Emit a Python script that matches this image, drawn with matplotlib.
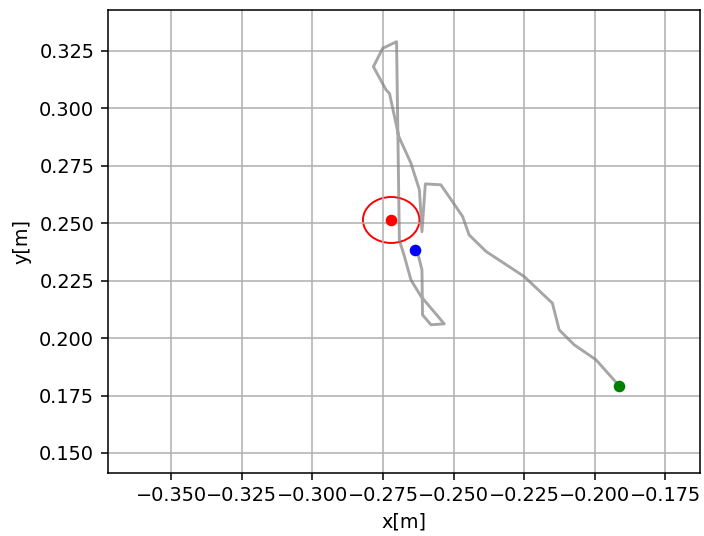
import numpy as np
import matplotlib
matplotlib.use('Agg')
import matplotlib.pyplot as plt
from matplotlib.patches import Circle

# trajectory (start = green, end = blue)
path_x = [-0.1914, -0.1996, -0.2073, -0.2126, -0.2150, -0.2250, -0.2385, -0.2445,
          -0.2468, -0.2504, -0.2545, -0.2600, -0.2612, -0.2621, -0.2651, -0.2694,
          -0.2727, -0.2739, -0.2784, -0.2751, -0.2702, -0.2698, -0.2692, -0.2674,
          -0.2651, -0.2615, -0.2533, -0.2580, -0.2610, -0.2612, -0.2627, -0.2637]
path_y = [0.1793, 0.1906, 0.1971, 0.2036, 0.2152, 0.2268, 0.2377, 0.2449,
          0.2529, 0.2594, 0.2667, 0.2671, 0.2463, 0.2645, 0.2761, 0.2877,
          0.3065, 0.3080, 0.3181, 0.3261, 0.3290, 0.2949, 0.2427, 0.2355,
          0.2253, 0.2181, 0.2062, 0.2058, 0.2101, 0.2297, 0.2370, 0.2384]

start = (-0.1914, 0.1793)
end = (-0.2637, 0.2384)
goal = (-0.2721, 0.2514)
goal_radius = 0.01

dpi = 139
fig = plt.figure(figsize=(704 / dpi, 536 / dpi), dpi=dpi)
ax = fig.add_axes([0.153, 0.118, 0.841, 0.863])

ax.plot(path_x, path_y, color='grey', alpha=0.7, linewidth=1.5)
ax.add_patch(Circle(goal, goal_radius, fill=False, edgecolor='red', linewidth=1))
ax.plot(*goal, 'o', color='red', markersize=5)
ax.plot(*start, 'o', color='green', markersize=5)
ax.plot(*end, 'o', color='blue', markersize=5)

ax.set_xlim(-0.3725, -0.1628)
ax.set_ylim(0.1414, 0.3427)
ax.set_xticks(np.arange(-0.350, -0.174, 0.025))
ax.set_yticks(np.arange(0.150, 0.326, 0.025))
ax.grid(True)
ax.set_xlabel('x[m]')
ax.set_ylabel('y[m]')

fig.savefig('out.png', dpi=dpi)
